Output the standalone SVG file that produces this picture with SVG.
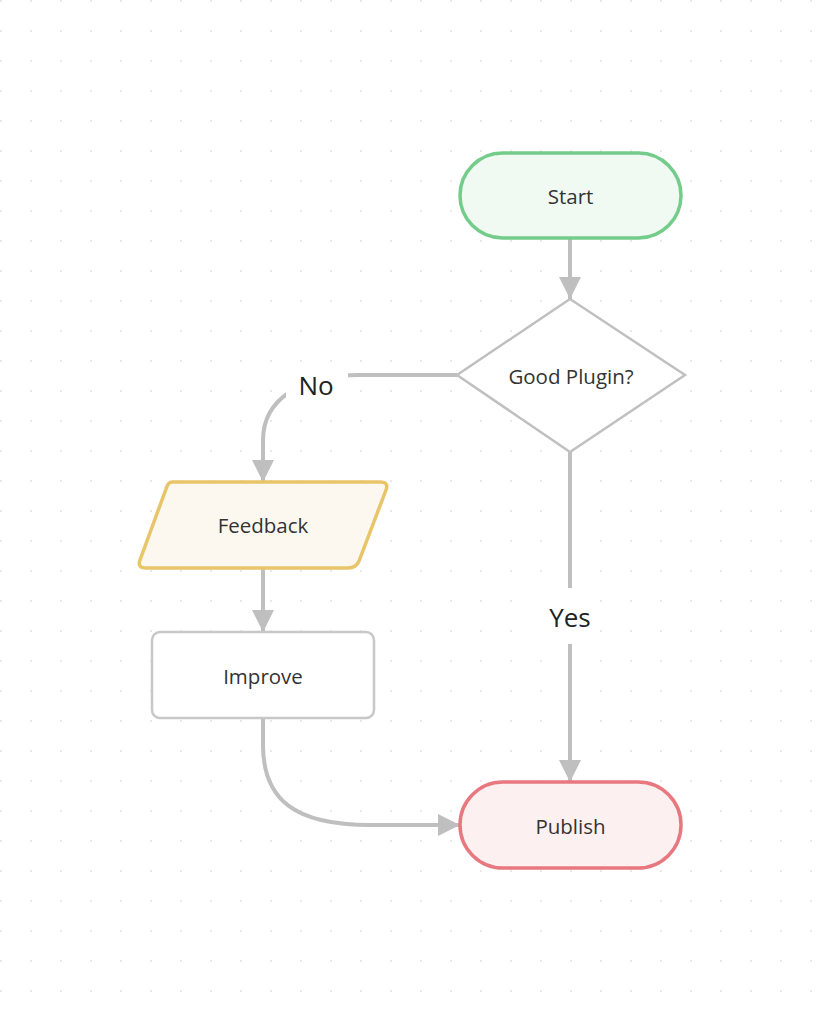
<svg xmlns="http://www.w3.org/2000/svg" width="833" height="1020" viewBox="0 0 833 1020">
<style>
.lbl{font-family:"Open Sans","Noto Sans","Liberation Sans",sans-serif;font-size:20.5px;fill:#333;text-anchor:middle;dominant-baseline:central}
.elbl{font-family:"Open Sans","Noto Sans","Liberation Sans",sans-serif;font-size:26px;fill:#222;text-anchor:middle;dominant-baseline:central}
.edge{fill:none;stroke:#bfbfbf;stroke-width:4}
</style>
<defs>
<pattern id="dots" x="0" y="0" width="30" height="30" patternUnits="userSpaceOnUse">
<circle cx="1" cy="1" r="1" fill="#e2e2e2"/>
</pattern>
<marker id="arr" markerUnits="userSpaceOnUse" markerWidth="22" markerHeight="22" viewBox="0 0 20 20" refX="20" refY="10" orient="auto">
<path d="M0,0 L20,10 L0,20 Z" fill="#bfbfbf"/>
</marker>
</defs>
<rect width="833" height="1020" fill="#fff"/>
<rect width="833" height="1020" fill="url(#dots)"/>
<g id="connectors">
<path class="edge" d="M570,238 L570,299" marker-end="url(#arr)"/>
<path class="edge" d="M457,375 L360,375 C300,375 263,400 263,440 L263,482" marker-end="url(#arr)"/>
<path class="edge" d="M570,452 L570,782" marker-end="url(#arr)"/>
<path class="edge" d="M263,568 L263,632" marker-end="url(#arr)"/>
<path class="edge" d="M263,718 L263,745 C263,800 295,825 370,825 L460,825" marker-end="url(#arr)"/>
<rect x="286" y="365" width="62" height="38" fill="#fff"/>
<text class="elbl" x="316" y="385">No</text>
<rect x="540" y="588" width="60" height="56" fill="#fff"/>
<text class="elbl" x="570" y="617">Yes</text>
</g>
<g id="start">
<rect x="460" y="153" width="221" height="85" rx="42.5" fill="#f0faf2" stroke="#74cc8a" stroke-width="3.5"/>
<text class="lbl" x="570.5" y="196">Start</text>
</g>
<g id="decision">
<polygon points="570,299 685,375 570,452 457,375" fill="#fff" stroke="#c0c0c0" stroke-width="2.5"/>
<text class="lbl" x="571" y="376">Good Plugin?</text>
</g>
<g id="feedback">
<path d="M172,482 L380,482 Q389,482 386,490 L359,561 Q356,568 348,568 L146,568 Q137,568 140,560 L166,489 Q168,482 172,482 Z" fill="#fcf8ef" stroke="#e8c56a" stroke-width="3.5"/>
<text class="lbl" x="263" y="525">Feedback</text>
</g>
<g id="improve">
<rect x="152" y="632" width="222" height="86" rx="8" fill="#fff" stroke="#c8c8c8" stroke-width="2.5"/>
<text class="lbl" x="263" y="676">Improve</text>
</g>
<g id="publish">
<rect x="460" y="782" width="221" height="86" rx="43" fill="#fcf0f0" stroke="#e87880" stroke-width="3.5"/>
<text class="lbl" x="570.5" y="826">Publish</text>
</g>
</svg>
